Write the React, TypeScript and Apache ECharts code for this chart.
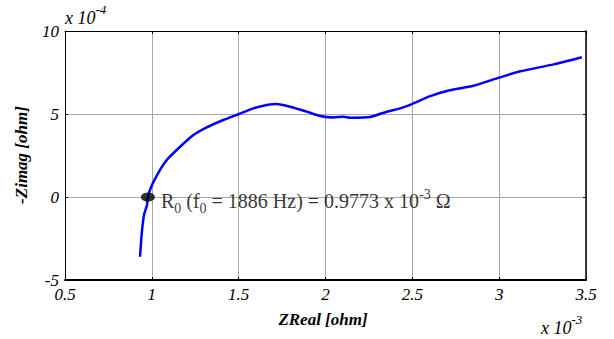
import React, { useEffect, useRef } from "react";
import * as echarts from "echarts";

// ZReal in units of 1e-3 ohm, -Zimag in units of 1e-4 ohm
const zReal = [0.932, 0.942, 0.955, 0.972, 0.977, 1.001, 1.047, 1.086, 1.143, 1.239, 1.316, 1.412, 1.502, 1.585, 1.662, 1.719, 1.796, 1.892, 1.969, 2.045, 2.103, 2.142, 2.257, 2.353, 2.43, 2.497, 2.603, 2.699, 2.852, 3.0, 3.121, 3.313, 3.476];
const zImagNeg = [-3.6, -2.17, -1.08, -0.48, 0.0, 0.72, 1.63, 2.23, 2.83, 3.73, 4.2, 4.64, 5.0, 5.34, 5.54, 5.6, 5.44, 5.14, 4.88, 4.79, 4.84, 4.78, 4.82, 5.14, 5.34, 5.6, 6.08, 6.39, 6.7, 7.19, 7.57, 7.99, 8.42];
const r0Point = [0.9773, 0];
const xTicks = { min: 0.5, max: 3.5, interval: 0.5 };
const yTicks = { min: -5, max: 10, interval: 5 };

const FONT = "Liberation Serif";

export default function App() {
  const ref = useRef<HTMLDivElement>(null);
  useEffect(() => {
    if (!ref.current) return;
    const chart = echarts.init(ref.current, null, { renderer: "svg" });
    const axisCommon = {
      axisTick: { show: true, inside: true, length: 3, lineStyle: { color: "#000" } },
      axisLine: { show: true, onZero: false, lineStyle: { color: "#000", width: 1 } },
    };
    const italicLabel = { color: "#000", fontFamily: FONT, fontStyle: "italic", fontWeight: "normal", fontSize: 17 };
    const supRich = {
      a: { fontFamily: FONT, fontStyle: "italic", fontWeight: "normal", fontSize: 18, color: "#000", lineHeight: 24, verticalAlign: "bottom" },
      b: { fontFamily: FONT, fontStyle: "italic", fontWeight: "normal", fontSize: 13, color: "#000", lineHeight: 13, verticalAlign: "top" },
    };
    chart.setOption({
      animation: false,
      backgroundColor: "#fff",
      textStyle: { fontFamily: FONT },
      grid: { left: 65, right: 28, top: 31, bottom: 59 },
      xAxis: [
        {
          type: "value",
          ...xTicks,
          ...axisCommon,
          axisLine: { show: true, onZero: false, lineStyle: { color: "#000", width: 2 } },
          axisLabel: { ...italicLabel, margin: 6 },
          splitLine: { show: true, lineStyle: { color: "#a8a8a8", width: 1 } },
        },
        {
          type: "value",
          position: "top",
          ...xTicks,
          ...axisCommon,
          axisLabel: { show: false },
          splitLine: { show: false },
        },
      ],
      yAxis: [
        {
          type: "value",
          ...yTicks,
          ...axisCommon,
          axisLabel: { ...italicLabel, margin: 6 },
          splitLine: { show: true, lineStyle: { color: "#a8a8a8", width: 1 } },
        },
        {
          type: "value",
          position: "right",
          ...yTicks,
          ...axisCommon,
          axisLine: { show: true, onZero: false, lineStyle: { color: "#000", width: 1.5 } },
          axisLabel: { show: false },
          splitLine: { show: false },
        },
      ],
      series: [
        {
          type: "line",
          data: zReal.map((x, i) => [x, zImagNeg[i]]),
          showSymbol: false,
          smooth: 0.2,
          lineStyle: { color: "#0000ff", width: 2.5 },
          z: 2,
        },
        {
          type: "scatter",
          data: [r0Point],
          symbol: "circle",
          symbolSize: [14, 9],
          itemStyle: { color: "#000" },
          z: 3,
          label: {
            show: true,
            position: "right",
            distance: 6,
            offset: [0, 4],
            color: "#000",
            fontFamily: FONT,
            fontWeight: "normal",
            formatter:
              "{n|R}{s|0}{n| (f}{s|0}{n| = 1886 Hz) = 0.9773 x 10}{p|-3}{n| Ω}",
            rich: {
              n: { fontFamily: FONT, fontWeight: "normal", fontSize: 20, color: "#000", lineHeight: 28, verticalAlign: "middle" },
              s: { fontFamily: FONT, fontWeight: "normal", fontSize: 14, color: "#000", lineHeight: 14, verticalAlign: "bottom" },
              p: { fontFamily: FONT, fontWeight: "normal", fontSize: 14, color: "#000", lineHeight: 14, verticalAlign: "top" },
            },
          },
        },
      ],
      graphic: [
        {
          type: "text",
          x: 323,
          y: 319,
          style: {
            text: "ZReal [ohm]",
            fontFamily: FONT,
            fontStyle: "italic",
            fontWeight: "bold",
            fontSize: 17,
            fill: "#000",
            align: "center",
            verticalAlign: "middle",
          },
        },
        {
          type: "text",
          x: 21,
          y: 155,
          rotation: Math.PI / 2,
          style: {
            text: "-Zimag [ohm]",
            fontFamily: FONT,
            fontStyle: "italic",
            fontWeight: "bold",
            fontSize: 17,
            fill: "#000",
            align: "center",
            verticalAlign: "middle",
          },
        },
        {
          type: "text",
          x: 65,
          y: 3,
          style: { text: "{a|x 10}{b|-4}", fontFamily: FONT, fontWeight: "normal", rich: supRich },
        },
        {
          type: "text",
          x: 541,
          y: 313,
          style: { text: "{a|x 10}{b|-3}", fontFamily: FONT, fontWeight: "normal", rich: supRich },
        },
      ],
    });
    return () => chart.dispose();
  }, []);
  return <div ref={ref} style={{ position: "fixed", left: 0, top: 0, width: 614, height: 339 }} />;
}
